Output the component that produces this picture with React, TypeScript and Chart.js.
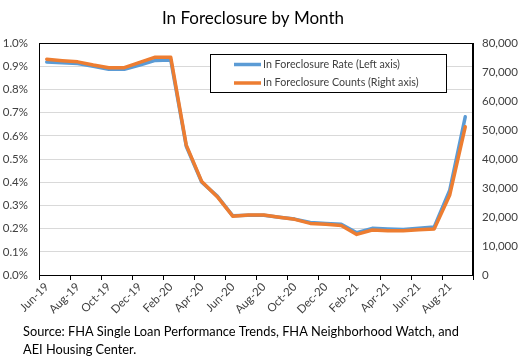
import React, { useEffect, useRef } from "react";
import { Chart, registerables } from "chart.js";

Chart.register(...registerables);

const months = [
  "Jun-19", "Jul-19", "Aug-19", "Sep-19", "Oct-19", "Nov-19", "Dec-19",
  "Jan-20", "Feb-20", "Mar-20", "Apr-20", "May-20", "Jun-20", "Jul-20",
  "Aug-20", "Sep-20", "Oct-20", "Nov-20", "Dec-20", "Jan-21", "Feb-21",
  "Mar-21", "Apr-21", "May-21", "Jun-21", "Jul-21", "Aug-21", "Sep-21",
];

const foreclosureRate = [
  0.918, 0.915, 0.912, 0.9, 0.887, 0.887, 0.905,
  0.925, 0.927, 0.555, 0.4, 0.34, 0.255, 0.258,
  0.258, 0.249, 0.241, 0.226, 0.222, 0.219, 0.182,
  0.201, 0.198, 0.196, 0.201, 0.207, 0.366, 0.682,
];

const foreclosureCounts = [
  74400, 73900, 73500, 72400, 71500, 71500, 73300,
  75100, 75100, 44800, 32200, 27000, 20300, 20700,
  20700, 19900, 19200, 17800, 17500, 17100, 14000,
  15500, 15300, 15300, 15600, 15900, 27600, 51100,
];

const titleText = "In Foreclosure by Month";
const seriesNames = ["In Foreclosure Rate (Left axis)", "In Foreclosure Counts (Right axis)"];
const sourceLines = [
  "Source: FHA Single Loan Performance Trends, FHA Neighborhood Watch, and",
  "AEI Housing Center.",
];

const BLUE = "#5B9BD5";
const ORANGE = "#ED7D31";
const FONT = "Lato";

const decorPlugin = {
  id: "decor",
  beforeDatasetsDraw(chart: any) {
    const { ctx, chartArea } = chart;
    ctx.save();
    ctx.strokeStyle = "#000";
    ctx.lineWidth = 1;
    ctx.strokeRect(
      Math.round(chartArea.left) + 0.5,
      Math.round(chartArea.top) + 0.5,
      Math.round(chartArea.right - chartArea.left) - 1,
      Math.round(chartArea.bottom - chartArea.top)
    );
    ctx.restore();
  },
  afterDraw(chart: any) {
    const { ctx } = chart;
    ctx.save();
    // title
    ctx.fillStyle = "#000";
    ctx.font = `17px ${FONT}`;
    ctx.textAlign = "center";
    ctx.textBaseline = "alphabetic";
    ctx.fillText(titleText, 253, 24);

    // legend
    const lx = 210, ly = 54, lw = 236, lh = 38;
    ctx.fillStyle = "#fff";
    ctx.fillRect(lx, ly, lw, lh);
    ctx.strokeStyle = "#000";
    ctx.lineWidth = 1;
    ctx.strokeRect(lx + 0.5, ly + 0.5, lw, lh);
    const rows = [64.5, 83];
    const colors = [BLUE, ORANGE];
    ctx.font = `10.7px ${FONT}`;
    ctx.textAlign = "left";
    ctx.textBaseline = "middle";
    rows.forEach((y, i) => {
      ctx.strokeStyle = colors[i];
      ctx.lineWidth = 3.5;
      ctx.beginPath();
      ctx.moveTo(234, y);
      ctx.lineTo(261, y);
      ctx.stroke();
      ctx.fillStyle = "#404040";
      ctx.fillText(seriesNames[i], 263, y);
    });

    // source
    ctx.fillStyle = "#000";
    ctx.font = `12.8px ${FONT}`;
    ctx.textBaseline = "alphabetic";
    ctx.fillText(sourceLines[0], 23, 335.5);
    ctx.fillText(sourceLines[1], 23, 354);
    ctx.restore();
  },
};

export default function App() {
  const ref = useRef<HTMLCanvasElement | null>(null);

  useEffect(() => {
    document.body.style.margin = "0";
    const canvas = ref.current;
    if (!canvas) return;
    const tickFont = { family: FONT, size: 11.5 };
    const chart = new Chart(canvas, {
      type: "line",
      data: {
        labels: months,
        datasets: [
          {
            label: seriesNames[0],
            data: foreclosureRate,
            borderColor: BLUE,
            backgroundColor: BLUE,
            borderWidth: 3.5,
            pointRadius: 0,
            tension: 0,
            borderCapStyle: "round",
            borderJoinStyle: "round",
            yAxisID: "y",
            order: 1,
          },
          {
            label: seriesNames[1],
            data: foreclosureCounts,
            borderColor: ORANGE,
            backgroundColor: ORANGE,
            borderWidth: 3.5,
            pointRadius: 0,
            tension: 0,
            borderCapStyle: "round",
            borderJoinStyle: "round",
            yAxisID: "y1",
            order: 0,
          },
        ],
      },
      options: {
        responsive: false,
        animation: false,
        devicePixelRatio: 1,
        layout: { padding: { top: 43, left: 0, right: 0, bottom: 0 } },
        plugins: {
          legend: { display: false },
          title: { display: false },
          tooltip: { enabled: false },
        },
        scales: {
          x: {
            offset: true,
            grid: {
              offset: true,
              drawOnChartArea: false,
              drawTicks: true,
              tickLength: 5,
              color: (c: any) =>
                c.type === "tick" ? (c.index % 2 === 0 ? "#000" : "rgba(0,0,0,0)") : "#000",
            },
            border: { display: true, color: "#000" },
            ticks: {
              autoSkip: false,
              maxRotation: 45,
              minRotation: 45,
              padding: 0,
              color: "#404040",
              font: tickFont,
              callback: (_v: any, i: number) => (i % 2 === 0 ? months[i] : ""),
            },
            afterFit: (s: any) => {
              s.height = 86;
            },
          },
          y: {
            position: "left",
            min: 0,
            max: 1.0,
            grid: { color: "#D9D9D9", drawTicks: false },
            border: { display: true, color: "#000" },
            ticks: {
              stepSize: 0.1,
              padding: 11,
              color: "#404040",
              font: tickFont,
              callback: (v: any) => `${Number(v).toFixed(1)}%`,
            },
            afterFit: (s: any) => {
              s.width = 39;
            },
          },
          y1: {
            position: "right",
            min: 0,
            max: 80000,
            grid: { drawOnChartArea: false, drawTicks: false },
            border: { display: true, color: "#000" },
            ticks: {
              stepSize: 10000,
              padding: 9,
              color: "#404040",
              font: tickFont,
              callback: (v: any) => Number(v).toLocaleString("en-US"),
            },
            afterFit: (s: any) => {
              s.width = 46;
            },
          },
        },
      },
      plugins: [decorPlugin],
    });
    return () => chart.destroy();
  }, []);

  return (
    <div style={{ width: 519, height: 361, background: "#fff" }}>
      <canvas ref={ref} width={519} height={361} />
    </div>
  );
}
